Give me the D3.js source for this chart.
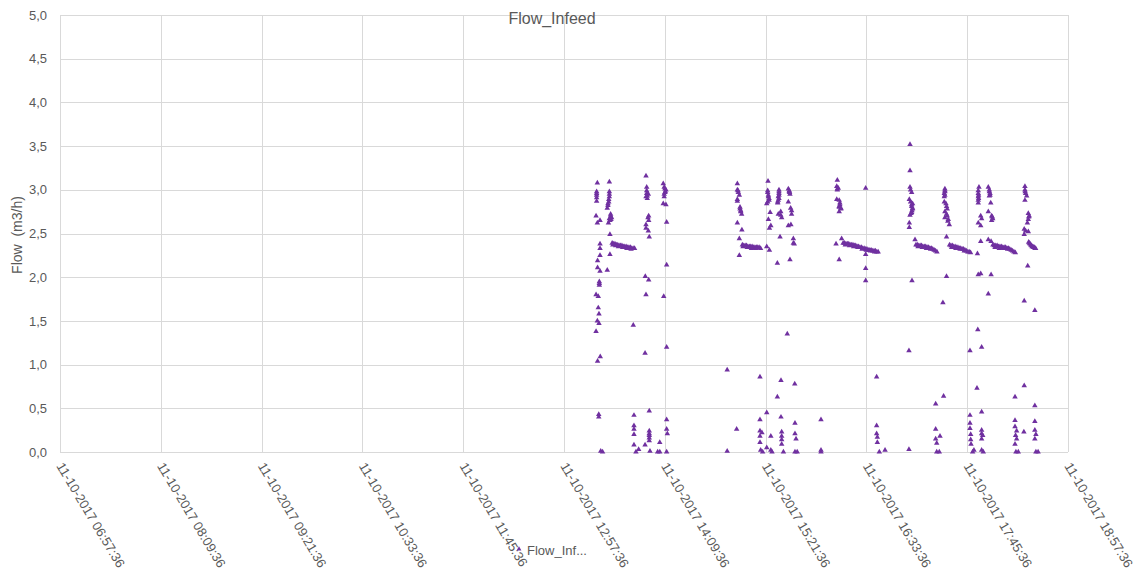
<!DOCTYPE html>
<html>
<head>
<meta charset="utf-8">
<script src="https://cdn.jsdelivr.net/npm/d3@7"></script>
<style>
  body { margin: 0; background: #fff; }
  svg { display: block; }
</style>
</head>
<body>
<div id="chart"></div>
<script>
// ---------------------------------------------------------
//  Flow_Infeed — scatter of logged flow (m3/h) over one day
// ---------------------------------------------------------
const TITLE = 'Flow_Infeed';
const Y_LABEL = 'Flow  (m3/h)';
const SERIES_NAME = 'Flow_Inf...';
const DAY = '11-10-2017';
const X_TICKS = ['06:57:36', '08:09:36', '09:21:36', '10:33:36', '11:45:36',
  '12:57:36', '14:09:36', '15:21:36', '16:33:36', '17:45:36', '18:57:36'];
const Y_TICKS = [0, 0.5, 1, 1.5, 2, 2.5, 3, 3.5, 4, 4.5, 5];

// [time, flow] readings, grouped by burst
const run1 = [
  ['13:21:25', 3.08], ['13:20:55', 2.98], ['13:20:55', 2.96], ['13:20:55', 2.94], ['13:20:55', 2.91],
  ['13:20:55', 2.87], ['13:20:30', 2.70], ['13:23:20', 2.65], ['13:21:25', 2.62], ['13:23:20', 2.38],
  ['13:23:20', 2.33], ['13:23:20', 2.25], ['13:21:35', 2.19], ['13:21:35', 2.11], ['13:23:20', 2.07],
  ['13:22:50', 1.95], ['13:22:50', 1.93], ['13:22:50', 1.91], ['13:20:30', 1.80], ['13:22:05', 1.78],
  ['13:22:05', 1.65], ['13:22:35', 1.58], ['13:21:25', 1.50], ['13:22:35', 1.47], ['13:20:30', 1.38],
  ['13:23:30', 1.09], ['13:21:35', 1.04], ['13:22:25', 0.43], ['13:22:25', 0.40], ['13:23:50', 0.01],
  ['13:25:10', 0.00]
];
const run2 = [
  ['13:30:00', 3.09], ['13:30:00', 2.98], ['13:30:00', 2.95], ['13:30:00', 2.92], ['13:29:35', 2.89],
  ['13:29:35', 2.86], ['13:29:00', 2.84], ['13:29:00', 2.82], ['13:28:30', 2.79], ['13:30:55', 2.72],
  ['13:30:55', 2.70], ['13:30:00', 2.67], ['13:31:35', 2.68], ['13:30:25', 2.65], ['13:29:20', 2.62],
  ['13:31:10', 2.66], ['13:30:25', 2.49], ['13:30:25', 2.26], ['13:28:30', 2.08]
];
const band1 = [
  ['13:32:00', 2.39], ['13:32:30', 2.37], ['13:33:00', 2.38], ['13:34:00', 2.38], ['13:34:30', 2.36],
  ['13:35:00', 2.37], ['13:36:00', 2.37], ['13:36:30', 2.35], ['13:37:00', 2.36], ['13:38:00', 2.36],
  ['13:39:00', 2.36], ['13:39:30', 2.34], ['13:40:00', 2.35], ['13:41:00', 2.35], ['13:42:00', 2.35],
  ['13:42:30', 2.33], ['13:43:00', 2.34], ['13:44:00', 2.34], ['13:45:00', 2.34], ['13:45:30', 2.32],
  ['13:46:00', 2.33], ['13:47:00', 2.33], ['13:48:00', 2.33]
];
const run3 = [
  ['13:47:05', 1.45], ['13:47:35', 0.42], ['13:47:35', 0.30], ['13:47:35', 0.26], ['13:47:35', 0.20],
  ['13:47:35', 0.08], ['13:49:00', 0.00], ['13:50:55', 0.03],
  ['13:56:10', 3.16], ['13:56:40', 3.03], ['13:56:40', 2.99], ['13:56:40', 2.96], ['13:57:05', 2.93],
  ['13:56:10', 2.92], ['13:57:50', 2.95], ['13:57:05', 2.90], ['13:58:05', 2.70], ['13:57:35', 2.68],
  ['13:58:05', 2.65], ['13:56:10', 2.60], ['13:56:10', 2.56], ['13:57:50', 2.53], ['13:58:30', 2.46],
  ['13:55:40', 2.01], ['13:58:05', 1.97], ['13:56:10', 1.80], ['13:55:30', 1.13], ['13:58:30', 0.47],
  ['13:58:30', 0.24], ['13:58:30', 0.21], ['13:58:30', 0.19], ['13:58:30', 0.16], ['13:58:30', 0.13],
  ['13:55:30', 0.08], ['13:59:00', 0.01],
  ['14:06:00', 0.11], ['14:04:30', 0.00], ['14:06:00', 0.00]
];
const run4 = [
  ['14:08:30', 3.07], ['14:09:10', 3.03], ['14:09:40', 3.01], ['14:10:25', 3.00], ['14:10:00', 2.98],
  ['14:09:40', 2.97], ['14:09:10', 2.95], ['14:09:10', 2.92], ['14:08:30', 2.84], ['14:10:25', 2.83],
  ['14:10:55', 2.63], ['14:10:55', 2.14], ['14:08:50', 1.78], ['14:10:55', 1.20], ['14:10:55', 0.37],
  ['14:10:55', 0.26], ['14:11:25', 0.21], ['14:10:55', 0.00]
];
const run5 = [
  ['14:54:10', 0.94], ['14:54:10', 0.01], ['15:00:55', 0.26],
  ['15:01:25', 3.07], ['15:01:25', 3.00], ['15:01:55', 2.99], ['15:02:05', 2.97], ['15:02:50', 2.94],
  ['15:01:25', 2.89], ['15:01:25', 2.87], ['15:03:20', 2.80], ['15:03:20', 2.78], ['15:03:50', 2.76],
  ['15:03:50', 2.75], ['15:04:30', 2.72], ['15:01:25', 2.62], ['15:04:40', 2.54], ['15:02:50', 2.44],
  ['15:02:50', 2.25]
];
const band2 = [
  ['15:05:00', 2.37], ['15:05:30', 2.35], ['15:06:00', 2.36], ['15:07:00', 2.36], ['15:08:00', 2.36],
  ['15:08:30', 2.34], ['15:09:00', 2.35], ['15:10:00', 2.35], ['15:11:00', 2.35], ['15:11:30', 2.33],
  ['15:12:00', 2.35], ['15:13:00', 2.34], ['15:14:00', 2.34], ['15:14:30', 2.33], ['15:15:00', 2.34],
  ['15:16:00', 2.34], ['15:17:00', 2.34], ['15:18:00', 2.33]
];
const run6 = [
  ['15:17:35', 0.86], ['15:17:35', 0.37], ['15:17:35', 0.24], ['15:19:00', 0.22], ['15:17:35', 0.18],
  ['15:17:35', 0.11], ['15:18:05', 0.02], ['15:19:30', 0.00],
  ['15:23:20', 3.10], ['15:23:05', 2.99], ['15:23:05', 2.97], ['15:23:35', 2.94], ['15:23:35', 2.92],
  ['15:24:05', 2.90], ['15:24:05', 2.88], ['15:23:05', 2.86], ['15:22:25', 2.84], ['15:24:50', 2.74],
  ['15:23:35', 2.66], ['15:25:20', 2.59], ['15:24:20', 2.56], ['15:22:25', 2.35], ['15:24:20', 2.31],
  ['15:22:25', 0.45], ['15:22:25', 0.05], ['15:25:20', 0.18], ['15:25:20', 0.02], ['15:26:10', 0.00]
];
const run7 = [
  ['15:31:10', 3.00], ['15:31:10', 2.98], ['15:31:10', 2.96], ['15:31:10', 2.94], ['15:30:40', 2.92],
  ['15:31:10', 2.90], ['15:30:40', 2.88], ['15:30:15', 2.86], ['15:30:15', 2.85], ['15:32:25', 2.75],
  ['15:30:40', 2.72], ['15:32:25', 2.71], ['15:33:05', 2.68], ['15:31:55', 2.46], ['15:30:00', 2.16],
  ['15:37:05', 1.35], ['15:32:35', 0.82], ['15:30:00', 0.63], ['15:32:35', 0.40], ['15:33:05', 0.23],
  ['15:33:05', 0.18], ['15:33:05', 0.14], ['15:33:05', 0.09], ['15:34:20', 0.00]
];
const run8 = [
  ['15:37:50', 3.01], ['15:38:30', 2.99], ['15:38:30', 2.98], ['15:38:45', 2.97], ['15:39:00', 2.95],
  ['15:37:50', 2.86], ['15:39:30', 2.79], ['15:40:10', 2.76], ['15:40:10', 2.72], ['15:39:40', 2.60],
  ['15:37:50', 2.59], ['15:41:25', 2.44], ['15:41:25', 2.39], ['15:42:05', 2.38], ['15:39:00', 2.20],
  ['15:42:25', 0.78], ['15:42:35', 0.33], ['15:42:35', 0.21], ['15:43:20', 0.15], ['15:42:35', 0.00],
  ['15:44:10', 0.00],
  ['16:01:10', 0.37], ['16:01:10', 0.02], ['16:01:10', 0.00]
];
const run9 = [
  ['16:12:50', 3.11], ['16:12:25', 3.04], ['16:13:30', 3.02], ['16:12:50', 3.01], ['16:12:50', 3.00],
  ['16:12:25', 2.89], ['16:14:10', 2.88], ['16:14:40', 2.85], ['16:14:40', 2.83], ['16:14:10', 2.81],
  ['16:14:10', 2.80], ['16:15:25', 2.79], ['16:15:25', 2.78], ['16:14:10', 2.75], ['16:15:55', 2.44],
  ['16:11:55', 2.38], ['16:14:10', 2.20]
];
const band3 = [
  ['16:17:00', 2.39], ['16:18:00', 2.39], ['16:18:30', 2.37], ['16:19:00', 2.38], ['16:20:00', 2.38],
  ['16:21:00', 2.38], ['16:21:30', 2.36], ['16:22:00', 2.37], ['16:23:00', 2.37], ['16:24:00', 2.37],
  ['16:24:30', 2.35], ['16:25:00', 2.36], ['16:26:00', 2.36], ['16:27:00', 2.35], ['16:27:30', 2.34],
  ['16:28:00', 2.35], ['16:29:00', 2.34], ['16:30:00', 2.34], ['16:30:30', 2.32], ['16:31:00', 2.33],
  ['16:32:00', 2.33], ['16:33:00', 2.32], ['16:33:30', 2.31], ['16:34:00', 2.32], ['16:35:00', 2.31],
  ['16:36:00', 2.31], ['16:36:30', 2.30], ['16:37:00', 2.31], ['16:38:00', 2.30], ['16:39:00', 2.30],
  ['16:39:30', 2.29], ['16:40:00', 2.30], ['16:41:00', 2.29], ['16:42:00', 2.29]
];
const run10 = [
  ['16:33:05', 3.02], ['16:33:05', 2.26], ['16:33:05', 2.10], ['16:33:05', 1.96],
  ['16:40:55', 0.86], ['16:40:55', 0.30], ['16:40:55', 0.21], ['16:41:25', 0.17], ['16:41:25', 0.11],
  ['16:42:50', 0.00], ['16:46:55', 0.02]
];
const run11 = [
  ['17:04:45', 3.52], ['17:04:45', 3.22], ['17:04:45', 3.03], ['17:05:10', 3.00], ['17:05:55', 2.97],
  ['17:04:15', 2.89], ['17:05:10', 2.86], ['17:06:35', 2.84], ['17:05:55', 2.83], ['17:05:55', 2.81],
  ['17:06:35', 2.79], ['17:06:35', 2.78], ['17:06:10', 2.76], ['17:05:55', 2.74], ['17:05:30', 2.73],
  ['17:04:45', 2.71], ['17:04:15', 2.62], ['17:04:15', 2.57], ['17:06:10', 1.96], ['17:04:00', 1.16],
  ['17:04:00', 0.03]
];
const band4 = [
  ['17:08:20', 2.43], ['17:09:00', 2.37], ['17:10:00', 2.37], ['17:10:30', 2.35], ['17:11:00', 2.36],
  ['17:12:00', 2.36], ['17:13:00', 2.36], ['17:13:30', 2.34], ['17:14:00', 2.35], ['17:15:00', 2.35],
  ['17:16:00', 2.35], ['17:16:30', 2.33], ['17:17:00', 2.34], ['17:18:00', 2.34], ['17:19:00', 2.33],
  ['17:19:30', 2.32], ['17:20:00', 2.33], ['17:21:00', 2.32], ['17:22:00', 2.31], ['17:23:00', 2.30],
  ['17:24:00', 2.29]
];
const run12 = [
  ['17:23:05', 0.55], ['17:23:05', 0.26], ['17:26:10', 0.18], ['17:23:05', 0.15], ['17:23:50', 0.10],
  ['17:23:50', 0.00], ['17:25:40', 0.00],
  ['17:29:40', 3.01], ['17:29:40', 2.99], ['17:29:40', 2.98], ['17:29:15', 2.96], ['17:29:40', 2.94],
  ['17:29:15', 2.92], ['17:29:15', 2.86], ['17:30:25', 2.84], ['17:30:50', 2.81], ['17:31:20', 2.78],
  ['17:29:40', 2.75], ['17:30:50', 2.72], ['17:31:20', 2.70], ['17:29:40', 2.68], ['17:32:05', 2.66],
  ['17:31:45', 2.64], ['17:32:50', 2.60], ['17:30:50', 2.46], ['17:30:50', 2.01], ['17:28:15', 1.71],
  ['17:28:45', 0.64]
];
const band5 = [
  ['17:33:00', 2.37], ['17:34:00', 2.36], ['17:34:30', 2.34], ['17:35:00', 2.36], ['17:36:00', 2.35],
  ['17:37:00', 2.35], ['17:37:30', 2.33], ['17:38:00', 2.34], ['17:39:00', 2.34], ['17:40:00', 2.33],
  ['17:40:30', 2.32], ['17:41:00', 2.33], ['17:42:00', 2.32], ['17:43:00', 2.32], ['17:43:30', 2.30],
  ['17:44:00', 2.31], ['17:45:00', 2.30], ['17:46:00', 2.29], ['17:47:00', 2.29], ['17:48:00', 2.28]
];
const run13 = [
  ['17:47:35', 1.16], ['17:47:35', 0.42], ['17:47:35', 0.33], ['17:47:35', 0.27], ['17:48:05', 0.20],
  ['17:48:05', 0.14], ['17:48:20', 0.09], ['17:49:30', 0.00], ['17:50:25', 0.02],
  ['17:54:00', 3.03], ['17:53:30', 2.99], ['17:53:30', 2.96], ['17:53:45', 2.94], ['17:53:30', 2.92],
  ['17:53:45', 2.90], ['17:53:30', 2.88], ['17:53:30', 2.85], ['17:55:15', 2.70], ['17:55:55', 2.67],
  ['17:53:30', 2.62], ['17:55:15', 2.59], ['17:55:15', 2.41], ['17:52:55', 2.27], ['17:55:15', 2.04],
  ['17:53:30', 2.03], ['17:53:10', 1.40], ['17:55:55', 1.20], ['17:52:35', 0.73], ['17:55:55', 0.46],
  ['17:55:55', 0.25], ['17:55:55', 0.21], ['17:56:40', 0.19], ['17:55:55', 0.15], ['17:55:55', 0.02],
  ['17:57:05', 0.00]
];
const run14 = [
  ['18:00:40', 3.03], ['18:01:25', 3.00], ['18:01:25', 2.98], ['18:01:55', 2.96], ['18:01:55', 2.94],
  ['18:01:25', 2.93], ['18:02:25', 2.85], ['18:00:40', 2.75], ['18:03:05', 2.70], ['18:03:30', 2.69],
  ['18:03:50', 2.67], ['18:03:05', 2.65], ['18:00:40', 2.43], ['18:02:40', 2.41], ['18:02:40', 2.03],
  ['18:00:40', 1.81]
];
const band6 = [
  ['18:04:00', 2.37], ['18:05:00', 2.36], ['18:05:30', 2.34], ['18:06:00', 2.36], ['18:07:00', 2.36],
  ['18:08:00', 2.35], ['18:08:30', 2.33], ['18:09:00', 2.35], ['18:10:00', 2.35], ['18:11:00', 2.34],
  ['18:11:30', 2.33], ['18:12:00', 2.34], ['18:13:00', 2.34], ['18:14:00', 2.33], ['18:14:30', 2.32],
  ['18:15:00', 2.33], ['18:16:00', 2.32], ['18:17:00', 2.31], ['18:18:00', 2.30], ['18:19:00', 2.29],
  ['18:20:00', 2.28]
];
const run15 = [
  ['18:19:45', 0.63], ['18:19:45', 0.36], ['18:19:45', 0.29], ['18:20:55', 0.24], ['18:20:10', 0.19],
  ['18:20:55', 0.15], ['18:19:45', 0.09], ['18:20:25', 0.00], ['18:22:05', 0.00], ['18:26:05', 0.23],
  ['18:26:50', 3.04], ['18:26:50', 3.00], ['18:27:00', 2.98], ['18:27:20', 2.96], ['18:28:05', 2.93],
  ['18:26:50', 2.88], ['18:29:15', 2.73], ['18:29:55', 2.70], ['18:29:35', 2.69], ['18:29:15', 2.66],
  ['18:28:35', 2.62], ['18:26:20', 2.55], ['18:27:20', 2.53], ['18:29:15', 2.52], ['18:26:20', 2.49],
  ['18:28:50', 2.13], ['18:26:20', 1.73], ['18:33:55', 1.62], ['18:26:20', 0.76], ['18:33:55', 0.53],
  ['18:33:55', 0.35], ['18:33:55', 0.25], ['18:34:40', 0.20], ['18:33:55', 0.15], ['18:34:40', 0.00],
  ['18:36:15', 0.00]
];
const band7 = [
  ['18:29:30', 2.40], ['18:30:00', 2.39], ['18:30:30', 2.38], ['18:31:00', 2.37], ['18:31:30', 2.36],
  ['18:32:00', 2.35], ['18:32:30', 2.35], ['18:33:00', 2.34], ['18:33:30', 2.34], ['18:34:00', 2.33],
  ['18:34:30', 2.33]
];

const READINGS = [run1, run2, band1, run3, run4, run5, band2, run6, run7, run8, run9, band3,
  run10, run11, band4, run12, band5, run13, run14, band6, run15, band7];

const W = 1136, H = 576;
const m = { t: 15, r: 68, b: 124, l: 60 };
const PURPLE = '#7030A0';
const GRID = '#d9d9d9';
const INK = '#595959';
const FONT = 'Liberation Sans, Arial, sans-serif';

const parse = d3.timeParse('%H:%M:%S');
const points = READINGS.flat().map(([t, v]) => ({ t: parse(t), v }));
const tickDates = X_TICKS.map(parse);

const x = d3.scaleTime()
  .domain([tickDates[0], tickDates[tickDates.length - 1]])
  .range([m.l, W - m.r]);
const y = d3.scaleLinear().domain([0, 5]).range([H - m.b, m.t]);

const svg = d3.select('#chart').append('svg')
  .attr('width', W).attr('height', H)
  .attr('font-family', FONT);

// grid
svg.append('g').selectAll('line')
  .data(Y_TICKS).join('line')
  .attr('x1', m.l).attr('x2', W - m.r)
  .attr('y1', d => Math.round(y(d)) + 0.5).attr('y2', d => Math.round(y(d)) + 0.5)
  .attr('stroke', GRID);
svg.append('g').selectAll('line')
  .data(tickDates).join('line')
  .attr('x1', d => Math.round(x(d)) + 0.5).attr('x2', d => Math.round(x(d)) + 0.5)
  .attr('y1', m.t).attr('y2', H - m.b)
  .attr('stroke', GRID);

// y axis
const comma = d3.formatLocale({ decimal: ',', thousands: '.', grouping: [3], currency: ['', ''] });
svg.append('g').attr('transform', `translate(${m.l},0)`)
  .call(d3.axisLeft(y).tickValues(Y_TICKS).tickFormat(comma.format('.1f')).tickSize(0).tickPadding(13))
  .attr('font-family', FONT).attr('font-size', 13).attr('color', INK)
  .call(g => g.select('.domain').remove());

// x axis, rotated labels
svg.append('g').selectAll('text')
  .data(tickDates).join('text')
  .attr('transform', d => `translate(${x(d) - 4},${H - m.b + 14}) rotate(59)`)
  .attr('font-size', 13).attr('fill', INK)
  .text((d, i) => `${DAY} ${X_TICKS[i]}`);

// points
const tri = d3.symbol().type(d3.symbolTriangle).size(13);
svg.append('g').selectAll('path')
  .data(points).join('path')
  .attr('transform', d => `translate(${x(d.t)},${y(d.v)})`)
  .attr('d', tri)
  .attr('fill', PURPLE);

// title
svg.append('text')
  .attr('x', 552).attr('y', 24)
  .attr('text-anchor', 'middle')
  .attr('font-size', 16).attr('fill', INK)
  .text(TITLE);

// y label (keeps the double space)
svg.append('text')
  .attr('transform', `translate(22,235) rotate(-90)`)
  .attr('text-anchor', 'middle')
  .style('white-space', 'pre')
  .attr('font-size', 14).attr('fill', INK)
  .text(Y_LABEL);

// legend
svg.append('path')
  .attr('transform', 'translate(519,549)')
  .attr('d', d3.symbol().type(d3.symbolTriangle).size(10))
  .attr('fill', PURPLE);
svg.append('text')
  .attr('x', 527).attr('y', 555)
  .attr('font-size', 13).attr('fill', INK)
  .text(SERIES_NAME);
</script>
</body>
</html>
